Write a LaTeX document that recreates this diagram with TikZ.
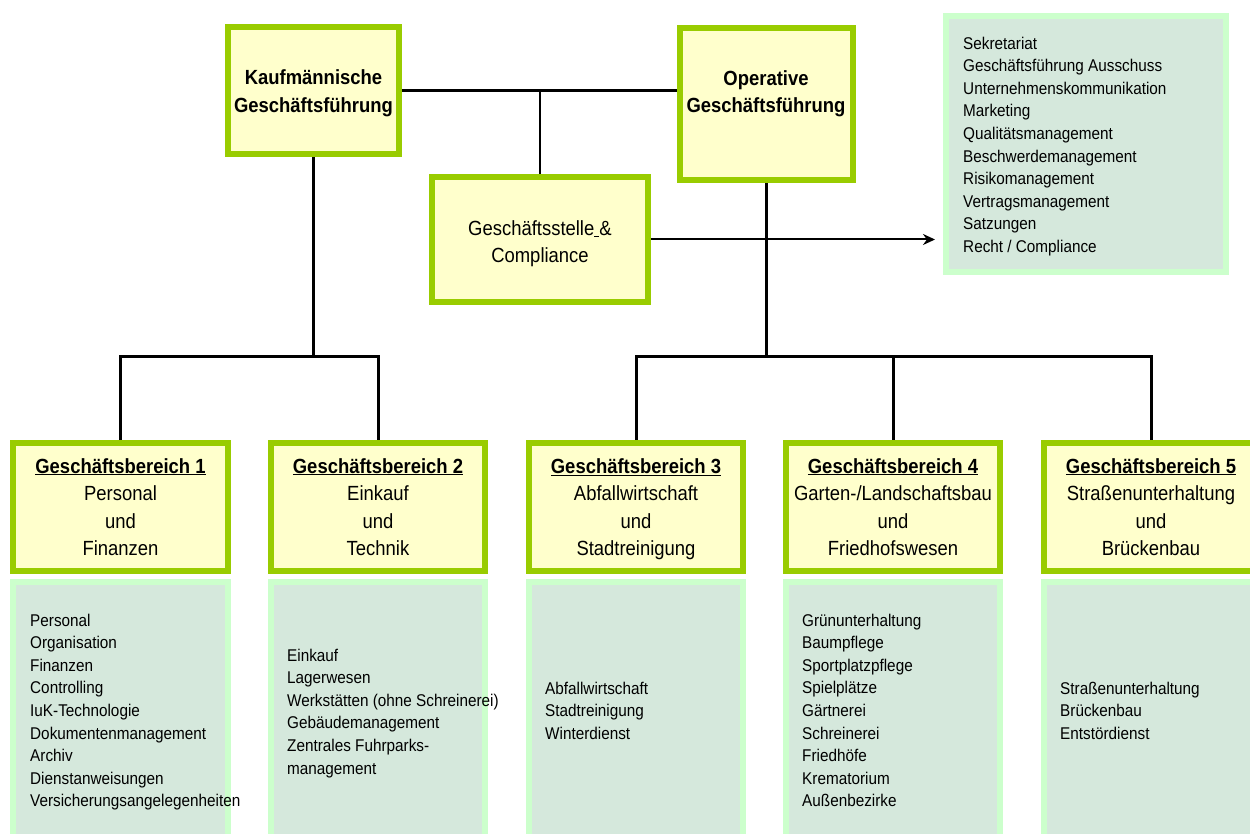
\documentclass[tikz,border=0pt]{standalone}
\usepackage{fontspec}
\setmainfont{Liberation Sans}[FakeStretch=0.9]
\usetikzlibrary{arrows.meta,calc}
\definecolor{boxgreen}{RGB}{153,204,0}
\definecolor{boxyellow}{RGB}{255,255,204}
\definecolor{palegreen}{RGB}{204,255,204}
\definecolor{listfill}{RGB}{213,232,220}
\pgfdeclarelayer{bg}\pgfsetlayers{bg,main}
\tikzset{
  ybox/.style={draw=boxgreen, fill=boxyellow, line width=6pt, inner sep=0pt,
    align=center, font=\fontsize{20.5}{27.5}\selectfont},
  gbox/.style={draw=palegreen, fill=listfill, line width=6pt, inner sep=0pt},
  ltext/.style={anchor=north west, inner sep=0pt, align=left,
    font=\fontsize{17}{22.6}\selectfont},
  conn/.style={line width=3pt, draw=black},
  thinconn/.style={line width=1.3pt, draw=black},
  arrowconn/.style={line width=2pt, draw=black, -{Stealth[length=12pt,width=11pt]}}
}
\begin{document}
\begin{tikzpicture}[x=1pt,y=-1pt]
\useasboundingbox (0,0) rectangle (1250,834);
\clip (0,0) rectangle (1250,834);
% top boxes
\node[ybox, minimum width=171pt, minimum height=127pt] (K) at (313.5,90.5)
  {\rule{0pt}{20pt}\bfseries Kaufmännische\\\bfseries Geschäftsführung};
\node[ybox, minimum width=173pt, minimum height=152pt] (O) at (766.5,104) {};
\node[inner sep=0pt, align=center, font=\fontsize{20.5}{27.5}\selectfont\bfseries] (OT) at (766,93.5)
  {Operative\\Geschäftsführung};
\node[ybox, minimum width=216pt, minimum height=125pt] (C) at (540,239.5)
  {\rule{0pt}{23pt}Geschäftsstelle\underline{\ }\&\\Compliance};
% right list box
\node[gbox, minimum width=280pt, minimum height=256pt] (L0) at (1086,144) {};
\node[ltext] (T0) at (963,36.5) {Sekretariat\\Geschäftsführung Ausschuss\\Unternehmenskommunikation\\Marketing\\Qualitätsmanagement\\Beschwerdemanagement\\Risikomanagement\\Vertragsmanagement\\Satzungen\\Recht / Compliance};
% lower yellow boxes
\node[ybox, minimum width=215pt, minimum height=128pt] (B1) at (120.5,507)
  {\bfseries\underline{Geschäftsbereich 1}\\Personal\\und\\Finanzen};
\node[ybox, minimum width=214pt, minimum height=128pt] (B2) at (378,507)
  {\bfseries\underline{Geschäftsbereich 2}\\Einkauf\\und\\Technik};
\node[ybox, minimum width=214pt, minimum height=128pt] (B3) at (636,507)
  {\bfseries\underline{Geschäftsbereich 3}\\Abfallwirtschaft\\und\\\raisebox{0pt}[\height][0pt]{Stadtreinigung}};
\node[ybox, minimum width=214pt, minimum height=128pt] (B4) at (893,507)
  {\bfseries\underline{Geschäftsbereich 4}\\Garten-/Landschaftsbau\\und\\Friedhofswesen};
\node[ybox, minimum width=214pt, minimum height=128pt] (B5) at (1151,507)
  {\bfseries\underline{Geschäftsbereich 5}\\Straßenunterhaltung\\und\\Brückenbau};
% lower list boxes
\node[gbox, minimum width=215pt, minimum height=265pt] (L1) at (120.5,714.5) {};
\node[gbox, minimum width=214pt, minimum height=265pt] (L2) at (378,714.5) {};
\node[gbox, minimum width=214pt, minimum height=265pt] (L3) at (636,714.5) {};
\node[gbox, minimum width=214pt, minimum height=265pt] (L4) at (893,714.5) {};
\node[gbox, minimum width=214pt, minimum height=265pt] (L5) at (1151,714.5) {};
\node[ltext] (T1) at (30,613.5) {Personal\\Organisation\\Finanzen\\Controlling\\IuK-Technologie\\Dokumentenmanagement\\Archiv\\Dienstanweisungen\\Versicherungsangelegenheiten};
\node[ltext] (T2) at (287,648.5) {Einkauf\\Lagerwesen\\Werkstätten (ohne Schreinerei)\\Gebäudemanagement\\Zentrales Fuhrparks-\\management};
\node[ltext] (T3) at (545,681.5) {Abfallwirtschaft\\Stadtreinigung\\Winterdienst};
\node[ltext] (T4) at (802,613.5) {Grünunterhaltung\\Baumpflege\\Sportplatzpflege\\Spielplätze\\Gärtnerei\\Schreinerei\\Friedhöfe\\Krematorium\\Außenbezirke};
\node[ltext] (T5) at (1060,681.5) {Straßenunterhaltung\\Brückenbau\\Entstördienst};
% connectors
\coordinate (kb) at (313.5,356);
\coordinate (ob) at (766.5,356);
\begin{pgfonlayer}{bg}
\draw[conn] (K.east) -- (K.east -| O.west);
\draw[thinconn] (K.east -| C.north) -- (C.north);
\draw[conn] (K.south) -- (kb);
\draw[conn] (B1.north) |- (kb) -| (B2.north);
\draw[conn] (O.south) -- (ob);
\draw[conn] (B3.north) |- (ob) -| (B5.north);
\draw[conn] (ob -| B4.north) -- (B4.north);
\end{pgfonlayer}
\draw[arrowconn, shorten >=8pt] (C.east) -- (C.east -| L0.west);
\end{tikzpicture}
\end{document}
